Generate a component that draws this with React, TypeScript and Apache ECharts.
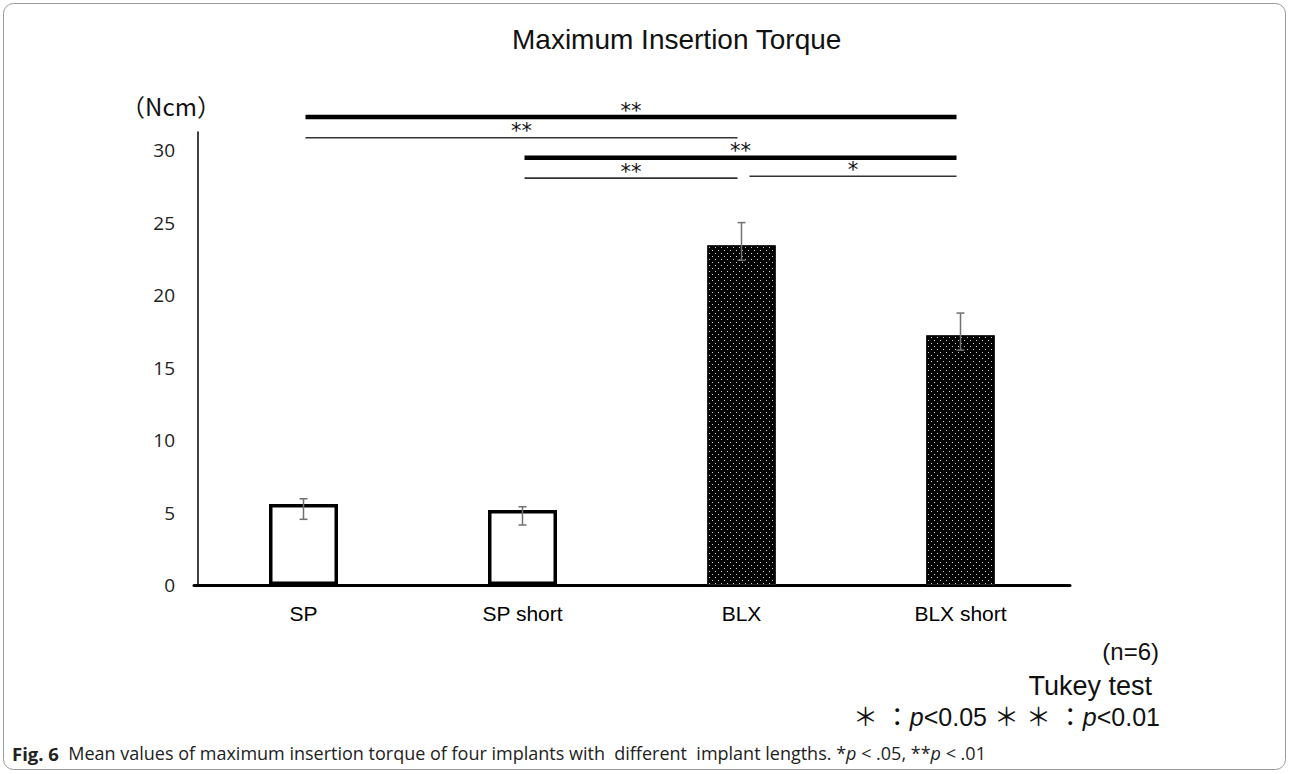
import React, { useEffect, useRef } from "react";
import * as echarts from "echarts";

const categories = ["SP", "SP short", "BLX", "BLX short"];
const meanValues = [5.59, 5.17, 23.45, 17.24];
const errLow = [4.53, 4.14, 22.4, 16.2];
const errHigh = [5.95, 5.4, 25.0, 18.76];
const yTicks = [0, 5, 10, 15, 20, 25, 30];

const sigFrom = [0, 0, 1, 1, 2];
const sigTo = [3, 2, 3, 2, 3];
const sigLevel = [32.28, 30.85, 29.48, 28.07, 28.2];
const sigMarks = ["**", "**", "**", "**", "*"];
const sigHeavy = [true, false, true, false, false];

function makePattern(): HTMLCanvasElement {
  const c = document.createElement("canvas");
  c.width = 6;
  c.height = 6;
  const ctx = c.getContext("2d")!;
  ctx.fillStyle = "#000";
  ctx.fillRect(0, 0, 6, 6);
  ctx.fillStyle = "#d0d0d0";
  ctx.fillRect(1, 1, 1, 1);
  ctx.fillRect(4, 4, 1, 1);
  return c;
}

export default function App() {
  const ref = useRef<HTMLDivElement>(null);
  useEffect(() => {
    document.body.style.margin = "0";
    const chart = echarts.init(ref.current!, null, { renderer: "svg" });
    const pattern = makePattern();
    const barData = meanValues.map((v, i) =>
      i < 2
        ? { value: v, itemStyle: { color: "#fff", borderColor: "#000", borderWidth: 3.5 } }
        : { value: v, itemStyle: { color: { image: pattern, repeat: "repeat" }, borderColor: "#222", borderWidth: 1 } }
    );
    const option: any = {
      animation: false,
      backgroundColor: "#fff",
      title: {
        text: "Maximum Insertion Torque",
        left: 507,
        top: 20,
        textStyle: { fontFamily: "Liberation Sans", fontSize: 28, fontWeight: "normal", color: "#111" },
      },
      grid: { left: 194, right: 220, top: 132, bottom: 189 },
      xAxis: {
        type: "category",
        data: categories,
        axisLine: { lineStyle: { color: "#000", width: 3 } },
        axisTick: { show: false },
        axisLabel: { color: "#000", fontFamily: "Liberation Sans", fontSize: 21, margin: 18 },
      },
      yAxis: {
        type: "value",
        min: 0,
        max: 31.25,
        interval: 5,
        offset: -4,
        splitLine: { show: false },
        axisTick: { show: false },
        axisLine: { show: true, lineStyle: { color: "#000", width: 1.5 } },
        axisLabel: {
          color: "#222",
          fontFamily: "Open Sans",
          fontSize: 19,
          margin: 23,
          showMaxLabel: false,
          formatter: (v: number) => (yTicks.indexOf(v) >= 0 ? String(v) : ""),
        },
      },
      series: [
        { type: "bar", data: barData, barWidth: 69, z: 2 },
        {
          type: "custom",
          z: 5,
          data: categories.map((_, i) => [i, errLow[i], errHigh[i]]),
          renderItem: (params: any, api: any) => {
            const lo = api.coord([api.value(0), api.value(1)]);
            const hi = api.coord([api.value(0), api.value(2)]);
            const st = { stroke: "#707070", lineWidth: 1.5 };
            return {
              type: "group",
              children: [
                { type: "line", shape: { x1: hi[0], y1: hi[1], x2: lo[0], y2: lo[1] }, style: st },
                { type: "line", shape: { x1: hi[0] - 4, y1: hi[1], x2: hi[0] + 4, y2: hi[1] }, style: st },
                { type: "line", shape: { x1: lo[0] - 4, y1: lo[1], x2: lo[0] + 4, y2: lo[1] }, style: st },
              ],
            };
          },
        },
        {
          type: "custom",
          z: 5,
          clip: false,
          data: sigFrom.map((f, i) => [f, sigTo[i], sigLevel[i], i]),
          renderItem: (params: any, api: any) => {
            const i = api.value(3);
            const from = api.value(0);
            const a = api.coord([from, api.value(2)]);
            const b = api.coord([api.value(1), api.value(2)]);
            // leave a small gap where another bracket at a similar level ends on the same bar
            let gap = 2;
            for (let k = 0; k < sigFrom.length; k++) {
              if (k !== i && sigTo[k] === from && Math.abs(sigLevel[k] - sigLevel[i]) < 0.5) gap = 8;
            }
            const x1 = a[0] + gap;
            const x2 = b[0] - 4;
            const y = a[1];
            return {
              type: "group",
              children: [
                {
                  type: "line",
                  shape: { x1, y1: y, x2, y2: y },
                  style: { stroke: sigHeavy[i] ? "#000" : "#333", lineWidth: sigHeavy[i] ? 4.5 : 1.6 },
                },
                {
                  type: "text",
                  style: {
                    text: sigMarks[i],
                    x: (x1 + x2) / 2,
                    y: y + 4,
                    align: "center",
                    verticalAlign: "bottom",
                    fontFamily: "DejaVu Sans",
                    fontSize: 21,
                    fill: "#111",
                  },
                },
              ],
            };
          },
        },
      ],
      graphic: [
        {
          type: "rect",
          shape: { x: 3.5, y: 3.5, width: 1282, height: 766, r: 10 },
          style: { fill: "none", stroke: "#9a9a9a", lineWidth: 1 },
          silent: true,
        },
        {
          type: "text",
          x: 171,
          y: 105,
          style: {
            text: "（Ncm）",
            align: "center",
            verticalAlign: "middle",
            fontFamily: "Noto Sans CJK JP",
            fontSize: 24,
            fill: "#111",
          },
        },
        {
          type: "text",
          x: 1159,
          y: 651,
          style: {
            text: "(n=6)",
            align: "right",
            verticalAlign: "middle",
            fontFamily: "Liberation Sans",
            fontSize: 24,
            fill: "#111",
          },
        },
        {
          type: "text",
          x: 1152,
          y: 686,
          style: {
            text: "Tukey test",
            align: "right",
            verticalAlign: "middle",
            fontFamily: "Liberation Sans",
            fontSize: 27,
            fill: "#111",
          },
        },
        {
          type: "text",
          x: 1160,
          y: 717,
          style: {
            text: "{a|＊ ：}{i|p}{a|<0.05 ＊ ＊ ：}{i|p}{a|<0.01}",
            align: "right",
            verticalAlign: "middle",
            rich: {
              a: { fontFamily: "Liberation Sans, Noto Sans CJK JP", fontSize: 25, fill: "#111" },
              i: { fontFamily: "Liberation Sans", fontStyle: "italic", fontSize: 25, fill: "#111" },
            },
          },
        },
        {
          type: "text",
          x: 12,
          y: 753,
          style: {
            text:
              "{b|Fig. 6}{n|  Mean values of maximum insertion torque of four implants with  different  implant lengths. *}{i|p}{n| < .05, **}{i|p}{n| < .01}",
            align: "left",
            verticalAlign: "middle",
            rich: {
              b: { fontFamily: "Open Sans", fontWeight: "bold", fontSize: 18.5, fill: "#222" },
              n: { fontFamily: "Open Sans", fontSize: 18, fill: "#222" },
              i: { fontFamily: "Open Sans", fontStyle: "italic", fontSize: 18, fill: "#222" },
            },
          },
        },
      ],
    };
    chart.setOption(option);
    return () => chart.dispose();
  }, []);
  return <div ref={ref} style={{ width: 1290, height: 774 }} />;
}
